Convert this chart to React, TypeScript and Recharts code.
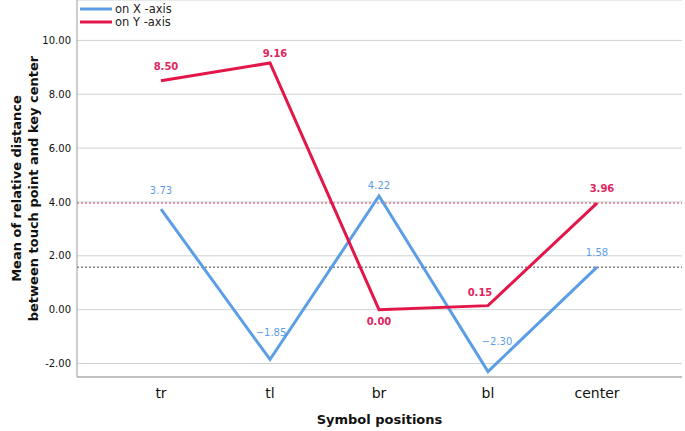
import React from "react";
import { LineChart, Line, XAxis, YAxis, CartesianGrid, ReferenceLine, Label, LabelList } from "recharts";

const categories = ["tr", "tl", "br", "bl", "center"];
const onX = [3.73, -1.85, 4.22, -2.3, 1.58];
const onY = [8.5, 9.16, 0.0, 0.15, 3.96];
const yTicks = [-2, 0, 2, 4, 6, 8, 10];
const refX = 1.58;
const refY = 3.96;

const data = categories.map((c, i) => ({ pos: c, x: onX[i], y: onY[i] }));

const FONT = "DejaVu Sans, Verdana, sans-serif";
const BLUE = "#5c9ee6";
const RED = "#e3164a";

// label offsets (style only): [dx, dy of label centre relative to point]
const blueOffsets = [[0, -19], [1, -27], [0, -11], [9, -30], [0, -15]];
const redOffsets = [[5, -14], [5, -10], [0, 12], [-8, -13], [5, -15]];

const BlueLabel = (props: any) => {
  const { x, y, value, index } = props;
  const [dx, dy] = blueOffsets[index] || [0, -12];
  return (
    <text x={x + dx} y={y + dy} dy="0.35em" textAnchor="middle" fontSize={10} fill="#5c9ee6" fontFamily={FONT}>
      {Number(value).toFixed(2).replace("-", "\u2212")}
    </text>
  );
};

const RedLabel = (props: any) => {
  const { x, y, value, index } = props;
  const [dx, dy] = redOffsets[index] || [0, -12];
  return (
    <text x={x + dx} y={y + dy} dy="0.35em" textAnchor="middle" fontSize={10} fontWeight="bold" fill="#e0245e" fontFamily={FONT}>
      {Number(value).toFixed(2)}
    </text>
  );
};

const LegendOverlay = () => (
  <svg width={140} height={30} style={{ position: "absolute", left: 79, top: 1 }}>
    <line x1={1} y1={8} x2={33} y2={8} stroke={BLUE} strokeWidth={3} />
    <text x={36} y={12} fontSize={11.5} fill="#222" fontFamily={FONT}>on X -axis</text>
    <line x1={1} y1={21} x2={33} y2={21} stroke={RED} strokeWidth={3} />
    <text x={36} y={25} fontSize={11.5} fill="#222" fontFamily={FONT}>on Y -axis</text>
  </svg>
);

const YTitle = (props: any) => {
  const { viewBox } = props;
  const cy = viewBox.y + viewBox.height / 2;
  return (
    <g>
      <text transform={`translate(21, ${cy}) rotate(-90)`} textAnchor="middle" fontSize={13} fontWeight="bold" fill="#111" fontFamily={FONT}>
        Mean of relative distance
      </text>
      <text transform={`translate(38, ${cy}) rotate(-90)`} textAnchor="middle" fontSize={13} fontWeight="bold" fill="#111" fontFamily={FONT}>
        between touch point and key center
      </text>
    </g>
  );
};

export default function App() {
  return (
    <div style={{ position: "absolute", left: 0, top: 0, width: 685, height: 431, background: "#fff" }}>
      <LineChart width={685} height={431} data={data} margin={{ top: 0, right: 3, bottom: 24, left: 0 }}>
        <CartesianGrid vertical={false} stroke="#cdd3d3" strokeWidth={1} />
        <XAxis
          dataKey="pos"
          padding={{ left: 84, right: 85 }}
          height={30}
          tickLine={false}
          axisLine={{ stroke: "#9a9a9a" }}
          tick={{ fontSize: 14, fill: "#111", fontFamily: FONT }}
          tickMargin={5}
        >
          <Label value="Symbol positions" position="bottom" offset={8} style={{ fontSize: 13, fontWeight: "bold", fill: "#111", fontFamily: FONT }} />
        </XAxis>
        <YAxis
          type="number"
          domain={[-2.5, 11.5]}
          ticks={yTicks}
          width={77}
          tickLine={false}
          axisLine={{ stroke: "#9a9a9a" }}
          tickFormatter={(v: number) => v.toFixed(2)}
          tick={{ fontSize: 10, fill: "#111", fontFamily: FONT }}
          tickMargin={0}
        >
          <Label content={<YTitle />} />
        </YAxis>
        <ReferenceLine y={refY} stroke="#d0405a" strokeDasharray="2 2" strokeWidth={1} />
        <ReferenceLine y={refX} stroke="#444" strokeDasharray="2 2" strokeWidth={1} />
        <Line dataKey="x" name="on X -axis" stroke={BLUE} strokeWidth={3} dot={false} isAnimationActive={false} strokeLinejoin="miter">
          <LabelList dataKey="x" content={<BlueLabel />} />
        </Line>
        <Line dataKey="y" name="on Y -axis" stroke={RED} strokeWidth={3} dot={false} isAnimationActive={false} strokeLinejoin="miter">
          <LabelList dataKey="y" content={<RedLabel />} />
        </Line>
      </LineChart>
      <LegendOverlay />
    </div>
  );
}
